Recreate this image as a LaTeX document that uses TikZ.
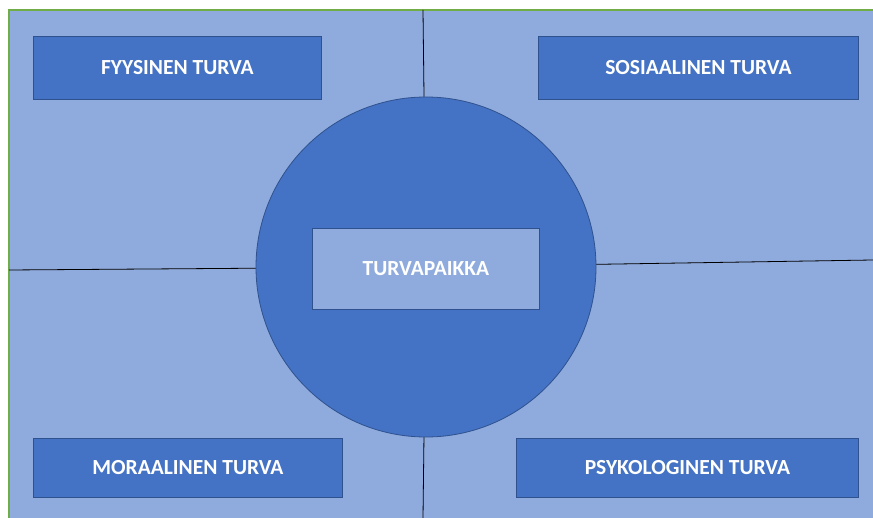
\documentclass[tikz,border=0pt]{standalone}
\usepackage{fontspec}
\setmainfont{Carlito}
\usepackage{tikz}

\definecolor{paleblue}{HTML}{8FAADC}
\definecolor{midblue}{HTML}{4472C4}
\definecolor{edgeblue}{HTML}{2F528F}
\definecolor{rimgreen}{HTML}{70AD47}

\begin{document}
\begin{tikzpicture}[
    x=1pt, y=-1pt,
    area/.style={rectangle, draw=edgeblue, line width=0.8pt, fill=midblue, text=white,
                 font=\bfseries\fontsize{21.5}{25}\selectfont, anchor=north west, inner sep=0pt},
    hubbox/.style={area, fill=paleblue},
    hubring/.style={circle, draw=edgeblue, line width=0.8pt, fill=midblue, minimum size=340pt, inner sep=0pt}
    ]
    \useasboundingbox (0,0) rectangle (873,518);
    \fill[paleblue] (9,10) rectangle (873,518);
    \draw[rimgreen, line width=1.6pt] (9,518) -- (9,10) -- (873,10);

    \coordinate (ntop) at (423,10);
    \coordinate (sbot) at (423,518);
    \coordinate (west) at (9,270);
    \coordinate (east) at (873,260);
    \coordinate (hubc) at (426,267);

    % dividing lines, covered by the circle
    \draw[black, line width=0.8pt] (ntop) -- (hubc);
    \draw[black, line width=0.8pt] (sbot) -- (hubc);
    \draw[black, line width=0.8pt] (west) -- (hubc);
    \draw[black, line width=0.8pt] (east) -- (hubc);

    \node[hubring] (hub) at (hubc) {};
    \node[hubbox, minimum width=227pt, minimum height=81pt] (core) at (312,228) {TURVAPAIKKA};

    \node[area, minimum width=288pt, minimum height=63pt] (phys) at (33,36) {FYYSINEN TURVA};
    \node[area, minimum width=320pt, minimum height=63pt] (social) at (538,36) {SOSIAALINEN TURVA};
    \node[area, minimum width=309pt, minimum height=59pt] (moral) at (33,438) {MORAALINEN TURVA};
    \node[area, minimum width=342pt, minimum height=59pt] (psych) at (516,438) {PSYKOLOGINEN TURVA};
\end{tikzpicture}
\end{document}
